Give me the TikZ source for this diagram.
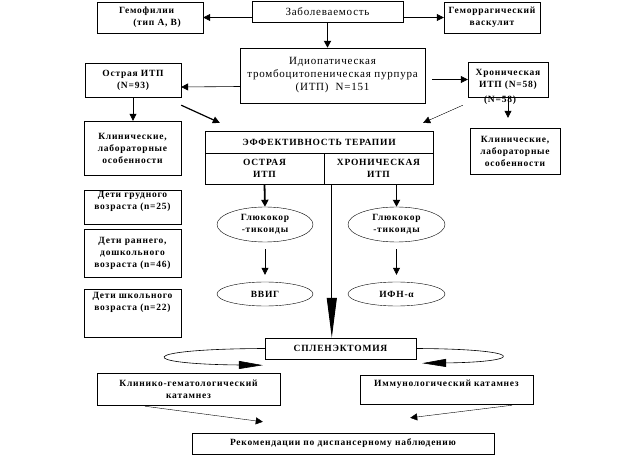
\documentclass[tikz,border=0pt]{standalone}
\usepackage{fontspec}
\setmainfont{Liberation Serif}
\newfontfamily\boxfont{Liberation Serif}[LetterSpace=8.0]
\newfontfamily\plainfont{Liberation Serif}[LetterSpace=7.0]
\usetikzlibrary{arrows.meta,calc,shapes.geometric}

\begin{document}
\begin{tikzpicture}[x=1pt,y=-1pt,
    box/.style={draw,inner sep=1pt,align=center,
      font=\boxfont\bfseries\fontsize{9.5}{12}\selectfont},
    plain/.style={draw,inner sep=1pt,align=center,
      font=\plainfont\fontsize{11}{13}\selectfont},
    oval/.style={ellipse,draw,inner sep=0pt,align=center,
      font=\boxfont\bfseries\fontsize{9.5}{12}\selectfont},
    arr/.style={-{Triangle[length=7pt,width=7pt]},line width=0.6pt},
    fatarr/.style={arr,line width=1.8pt},
    longarr/.style={-{Triangle[length=40pt,width=10pt]},line width=1pt},
    loophead/.style={-{Triangle[length=24pt,width=8pt]},line width=0.6pt}]
  \useasboundingbox (0,0) rectangle (637,470);
  % Top row
  \node[plain,minimum width=151,minimum height=21] (zab) at (327.5,12) {Заболеваемость};
  \node[box,align=left,minimum width=106,minimum height=31] (gemo) at (150,17.5)
    {Гемофилии\\\hspace*{1.5em}(тип А, В)};
  \node[box,minimum width=96,minimum height=31] (vask) at (492,17.5)
    {Геморрагический\\васкулит};
  % ITP and its two forms
  \node[plain,minimum width=185,minimum height=55] (itp) at (332.5,75.5)
    {Идиопатическая\\тромбоцитопеническая пурпура\\(ИТП)~ N=151};
  \node[box,minimum width=96,minimum height=34] (acute) at (133,80) {Острая ИТП\\(N=93)};
  \node[box,minimum width=80,minimum height=35] (chron) at (508,79.5)
    {Хроническая\\ИТП (N=58)};
  \node[box,draw=none] (chronN) at (500,100) {(N=58)};
  % Clinical features
  \node[box,minimum width=97,minimum height=54] (klinL) at (132.5,148)
    {Клинические,\\лабораторные\\особенности};
  \node[box,minimum width=90,minimum height=46] (klinR) at (515,151)
    {Клинические,\\лабораторные\\особенности};
  % Therapy table
  \node[box,minimum width=228,minimum height=22] (eff) at (319,142)
    {ЭФФЕКТИВНОСТЬ ТЕРАПИИ};
  \node[box,minimum width=119,minimum height=31] (acuteT) at (264.5,168.5) {ОСТРАЯ\\ИТП};
  \node[box,minimum width=109,minimum height=31] (chronT) at (378.5,168.5) {ХРОНИЧЕСКАЯ\\ИТП};
  % Age groups
  \node[box,minimum width=97,minimum height=34,text depth=14pt] (child1) at (132.5,207)
    {Дети грудного\\возраста (n=25)};
  \node[box,minimum width=97,minimum height=48] (child2) at (132.5,253)
    {Дети раннего,\\дошкольного\\возраста (n=46)};
  \node[box,minimum width=97,minimum height=48,text depth=24pt] (child3) at (132.5,313)
    {Дети школьного\\возраста (n=22)};
  % Treatment
  \node[oval,minimum width=96,minimum height=35] (glucA) at (265,224.5) {Глюкокор\\-тикоиды};
  \node[oval,minimum width=97,minimum height=35] (glucB) at (396.5,224.5) {Глюкокор\\-тикоиды};
  \node[oval,minimum width=96,minimum height=24] (ivig) at (265,294) {ВВИГ};
  \node[oval,minimum width=97,minimum height=24] (ifn) at (396.5,294) {ИФН-α};
  % Splenectomy and follow-up
  \node[box,minimum width=151,minimum height=21] (splen) at (340.5,348.5) {СПЛЕНЭКТОМИЯ};
  \node[box,minimum width=183,minimum height=32] (klinH) at (188.5,389)
    {Клинико-гематологический\\катамнез};
  \node[box,minimum width=173,minimum height=29,text depth=12pt] (immun) at (446.5,389.5)
    {Иммунологический катамнез};
  \node[box,minimum width=302,minimum height=21] (recom) at (343,443.5)
    {Рекомендации по диспансерному наблюдению};

  % Arrows from the top
  \draw[arr] (zab.west |- gemo.east) -- (gemo.east);
  \draw[arr] (zab.east |- vask.west) -- (vask.west);
  \draw[fatarr] (zab.south) -- (itp.north -| zab.south);
  \draw[arr] ($(itp.west)+(0,11)$) -- ($(acute.east)+(0,7)$);
  \draw[arr] ($(itp.east)+(7,4)$) -- (chron.west);
  \draw[arr] (acute.south) -- (acute.south |- klinL.north);
  \draw[arr,line width=1.2pt] ($(acute.south east)+(0,8)$) -- ($(eff.north west)+(15,-8)$);
  \draw[arr,thin] ($(chron.south west)+(-5,8)$) -- ($(eff.north east)+(-10,-8)$);
  \draw[arr,shorten >=10pt] (chron.south) -- (chron.south |- klinR.north);
  % Table to treatment
  \draw[fatarr] (acuteT.south) -- (glucA.north);
  \draw[fatarr] (chronT.south -| glucB.north) -- (glucB.north);
  \draw[longarr] ($(chronT.south west)+(8,0)$) -- ($(splen.north west)+(67,0)$);
  \draw[arr,shorten <=7pt,shorten >=7pt] (glucA) -- (ivig);
  \draw[arr,shorten <=7pt,shorten >=7pt] (glucB) -- (ifn);
  % Loops round the splenectomy
  \draw[loophead] (splen.west) .. controls (135,349) and (135,364) .. ($(splen.south west)+(-2,6)$);
  \draw[loophead] (splen.east) .. controls (527,349) and (527,362) .. ($(splen.south east)+(6,4)$);
  % Follow-up to recommendations
  \draw[arr,thin] ($(klinH.south west)+(48,1)$) -- ($(recom.north west)+(71,-11)$);
  \draw[arr,thin] ($(immun.south east)+(-21,1)$) -- ($(recom.north east)+(-84,-15)$);
\end{tikzpicture}
\end{document}
